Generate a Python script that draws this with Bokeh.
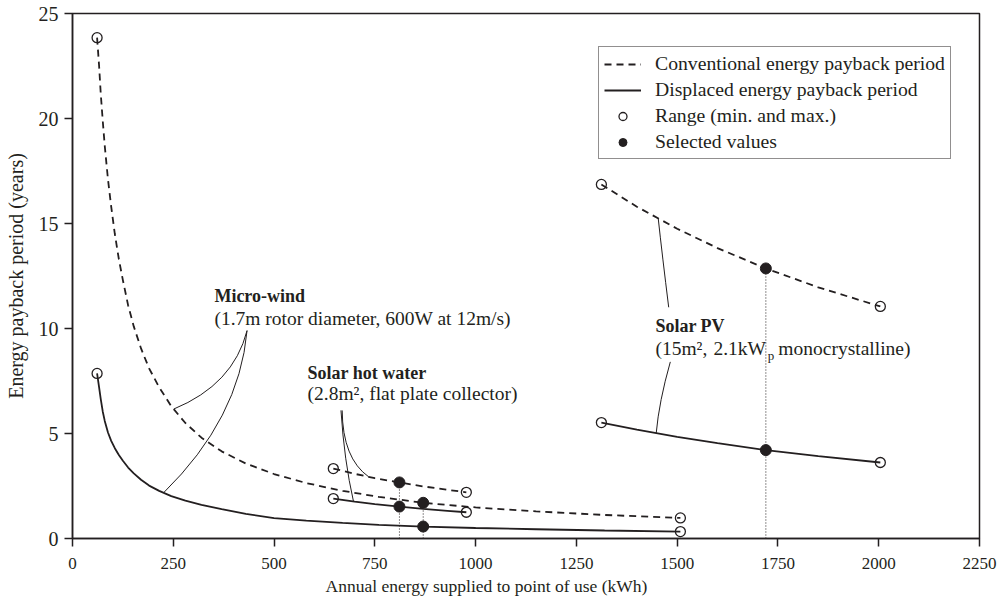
import numpy as np
from bokeh.plotting import figure
from bokeh.models import Legend, LegendItem, Range1d, FixedTicker, Title
from bokeh.core.properties import value
from bokeh.embed import file_html
from bokeh.resources import INLINE

# ---- data: annual energy supplied (kWh) vs energy payback period (years) ----
wind_kwh = [61, 66, 70, 75, 80, 88, 96, 105, 115, 125, 138, 152, 170, 190, 215,
            245, 280, 320, 370, 430, 500, 580, 670, 760, 870, 1000, 1150, 1320, 1508]
wind_conventional = [23.85, 22.5, 21.2, 19.9, 18.7, 17.1, 15.8, 14.5, 13.3, 12.3, 11.1,
                     10.1, 9.05, 8.1, 7.2, 6.3, 5.5, 4.8, 4.15, 3.57, 3.07, 2.64, 2.27,
                     1.98, 1.70, 1.48, 1.29, 1.12, 0.98]
wind_displaced = [7.86, 7.2, 6.65, 6.05, 5.6, 5.05, 4.65, 4.3, 3.98, 3.7, 3.38, 3.1,
                  2.8, 2.52, 2.27, 2.02, 1.8, 1.6, 1.4, 1.17, 0.97, 0.85, 0.74, 0.65,
                  0.57, 0.5, 0.44, 0.38, 0.33]

shw_kwh = [647, 700, 750, 811, 870, 930, 977]
shw_conventional = [3.33, 3.08, 2.87, 2.67, 2.48, 2.32, 2.2]
shw_displaced = [1.9, 1.76, 1.64, 1.52, 1.41, 1.32, 1.25]

pv_kwh = [1312, 1400, 1500, 1600, 1720, 1850, 2004]
pv_conventional = [16.86, 15.8, 14.75, 13.83, 12.86, 11.96, 11.05]
pv_displaced = [5.52, 5.18, 4.84, 4.54, 4.21, 3.92, 3.62]

# selected values (filled markers) and their guide lines
selected_kwh = [811, 811, 870, 870, 1720, 1720]
selected_years = [2.67, 1.52, 1.70, 0.57, 12.86, 4.21]
guide_kwh = [811, 870, 1720]
guide_top = [2.67, 1.70, 12.86]

x_ticks = [0, 250, 500, 750, 1000, 1250, 1500, 1750, 2000, 2250]
y_ticks = [0, 5, 10, 15, 20, 25]

FONT = "Liberation Serif"
INK = "#231f20"

p = figure(width=1006, height=603, output_backend="svg", toolbar_location=None,
           x_range=Range1d(0, 2250), y_range=Range1d(0, 25),
           min_border_left=72, min_border_right=27, min_border_top=13,
           min_border_bottom=65)
p.grid.visible = False
p.background_fill_color = "white"
p.border_fill_color = "white"
p.outline_line_color = INK
p.outline_line_width = 1.5
p.outline_line_alpha = 1

for ax in (p.xaxis[0], p.yaxis[0]):
    ax.axis_line_color = INK
    ax.axis_line_width = 1.5
    ax.major_tick_line_color = INK
    ax.major_tick_line_width = 1.5
    ax.major_tick_out = 8
    ax.major_tick_in = 0
    ax.minor_tick_line_color = None
    ax.major_label_text_font = FONT
    ax.major_label_text_color = INK
    ax.axis_label_text_font = FONT
    ax.axis_label_text_font_style = "normal"
    ax.axis_label_text_color = INK

p.xaxis.ticker = FixedTicker(ticks=x_ticks)
p.yaxis.ticker = FixedTicker(ticks=y_ticks)
p.xaxis.major_label_text_font_size = "17px"
p.yaxis.major_label_text_font_size = "20px"
p.xaxis.major_label_standoff = 11
p.yaxis.major_label_standoff = 6
p.yaxis.axis_label = "Energy payback period (years)"
p.yaxis.axis_label_text_font_size = "20px"
p.yaxis.axis_label_standoff = 9

# x-axis title, set slightly left of the frame centre
x_title = Title(text="Annual energy supplied to point of use (kWh)", align="left",
                offset=253, standoff=4, vertical_align="bottom", text_line_height=1.4,
                text_font=FONT, text_font_size="17.5px", text_font_style="normal",
                text_color=INK)
p.add_layout(x_title, "below")


def on_curve(xs, ys, x):
    return float(np.interp(x, xs, ys))


# ---- leader lines from the labels to the curves ----
leaders = [
    # (x0, y0, control x, control y, x1, curve x, curve y)
    (433, 9.9, 399, 7.33, 251, wind_kwh, wind_conventional),
    (433, 9.9, 414, 5.71, 226, wind_kwh, wind_displaced),
    (666, 6.1, 674, 3.71, 697, shw_kwh, shw_displaced),
    (669, 6.1, 670, 3.81, 735, shw_kwh, shw_conventional),
    (1479, 11.01, 1463, 13.48, 1453, pv_kwh, pv_conventional),
    (1483, 8.41, 1455, 6.52, 1448, pv_kwh, pv_displaced),
]
p.quadratic(x0=[l[0] for l in leaders], y0=[l[1] for l in leaders],
            cx=[l[2] for l in leaders], cy=[l[3] for l in leaders],
            x1=[l[4] for l in leaders],
            y1=[on_curve(l[5], l[6], l[4]) for l in leaders],
            line_color=INK, line_width=1)

# ---- payback curves ----
series = [
    (wind_kwh, wind_conventional, wind_displaced),
    (shw_kwh, shw_conventional, shw_displaced),
    (pv_kwh, pv_conventional, pv_displaced),
]
conv_renderers, disp_renderers = [], []
for xs, conv, disp in series:
    conv_renderers.append(p.line(xs, conv, line_color=INK, line_width=1.8,
                                 line_dash="7 5"))
    disp_renderers.append(p.line(xs, disp, line_color=INK, line_width=1.8))

# dotted guides from the selected values down to the axis
p.segment(x0=guide_kwh, y0=[0] * len(guide_kwh), x1=guide_kwh, y1=guide_top,
          line_color=INK, line_width=1, line_dash="1 2")

# range end points (min. and max.)
range_x, range_y = [], []
for xs, conv, disp in series:
    for ys in (conv, disp):
        range_x += [xs[0], xs[-1]]
        range_y += [ys[0], ys[-1]]
r_open = p.scatter(range_x, range_y, marker="circle", size=10, fill_alpha=0,
                   line_color=INK, line_width=1.3)
r_sel = p.scatter(selected_kwh, selected_years, marker="circle", size=11,
                  fill_color=INK, line_color=INK)

# ---- labels ----
text_kw = dict(text_font=value(FONT), text_color=INK, text_baseline="middle",
               text_align="left")
p.text(x=[352, 583, 1446], y=[11.57, 7.9, 10.14],
       text=["Micro-wind", "Solar hot water", "Solar PV"],
       text_font_size="18px", text_font_style="bold", **text_kw)
p.text(x=[352, 583, 1446, 1590, 1751], y=[10.48, 6.9, 9.05, 9.05, 9.05],
       text=["(1.7m rotor diameter, 600W at 12m/s)",
             "(2.8m\u00b2, flat plate collector)",
             "(15m\u00b2,", "2.1kW", "monocrystalline)"],
       text_font_size="19.5px", **text_kw)
p.text(x=[1725], y=[8.71], text=["p"], text_font_size="13px", **text_kw)

# ---- legend ----
legend = Legend(items=[
    LegendItem(label="Conventional energy payback period", renderers=[conv_renderers[0]]),
    LegendItem(label="Displaced energy payback period", renderers=[disp_renderers[0]]),
    LegendItem(label="Range (min. and max.)", renderers=[r_open]),
    LegendItem(label="Selected values", renderers=[r_sel]),
], location=(526, 379))
legend.label_text_font = FONT
legend.label_text_font_size = "19.7px"
legend.label_text_color = INK
legend.glyph_width = 37
legend.glyph_height = 20
legend.label_height = 20
legend.spacing = 3
legend.padding = 5
legend.margin = 0
legend.label_standoff = 14
legend.border_line_color = INK
legend.border_line_width = 1
legend.background_fill_color = "white"
legend.background_fill_alpha = 1
p.add_layout(legend)

open("out.html", "w").write(file_html(p, INLINE))
